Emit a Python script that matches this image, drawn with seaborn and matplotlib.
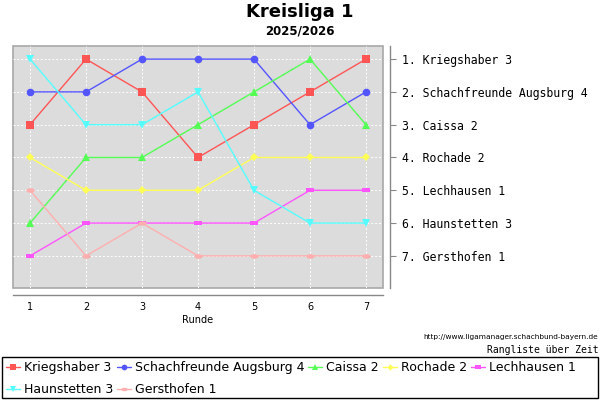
import matplotlib
matplotlib.use("Agg")
import matplotlib.pyplot as plt
from matplotlib.path import Path
from matplotlib.patches import Rectangle
import numpy as np
import pandas as pd
import seaborn as sns

# Platzierung je Runde
runden = [1, 2, 3, 4, 5, 6, 7]
kriegshaber_3 = [3, 1, 2, 4, 3, 2, 1]
schachfreunde_augsburg_4 = [2, 2, 1, 1, 1, 3, 2]
caissa_2 = [6, 4, 4, 3, 2, 1, 3]
rochade_2 = [4, 5, 5, 5, 4, 4, 4]
lechhausen_1 = [7, 6, 6, 6, 6, 5, 5]
haunstetten_3 = [1, 3, 3, 2, 5, 6, 6]
gersthofen_1 = [5, 7, 6, 7, 7, 7, 7]

teams = ["Kriegshaber 3", "Schachfreunde Augsburg 4", "Caissa 2", "Rochade 2",
         "Lechhausen 1", "Haunstetten 3", "Gersthofen 1"]
platz_labels = ["1. Kriegshaber 3", "2. Schachfreunde Augsburg 4", "3. Caissa 2",
                "4. Rochade 2", "5. Lechhausen 1", "6. Haunstetten 3", "7. Gersthofen 1"]

farben = ["#ff5555", "#5555ff", "#55ff55", "#ffff55", "#ff55ff", "#55ffff", "#ffafaf"]

# marker shapes
rect_marker = Path([(-1, -0.5), (1, -0.5), (1, 0.5), (-1, 0.5), (-1, -0.5)],
                   [Path.MOVETO, Path.LINETO, Path.LINETO, Path.LINETO, Path.CLOSEPOLY])
phi = np.linspace(0, 2 * np.pi, 40)
ellipse_marker = Path(np.column_stack([np.cos(phi), 0.55 * np.sin(phi)]))
marker_list = ["s", "o", "^", "D", rect_marker, "v", ellipse_marker]
marker_sizes = [5.2, 5.5, 6, 4.2, 6, 6, 6]

df = pd.DataFrame({
    "Runde": runden * 7,
    "Platz": kriegshaber_3 + schachfreunde_augsburg_4 + caissa_2 + rochade_2
             + lechhausen_1 + haunstetten_3 + gersthofen_1,
    "Team": [t for t in teams for _ in runden],
})

sns.set_style("white")
plt.rcParams["font.family"] = ["DejaVu Sans"]
for k in ["text.color", "axes.labelcolor", "xtick.color", "ytick.color"]:
    plt.rcParams[k] = "black"

fig = plt.figure(figsize=(6, 4), dpi=100)
ax = fig.add_axes([0.022, 0.28, 0.616, 0.605])

for i, team in enumerate(teams):
    sub = df[df["Team"] == team]
    sns.lineplot(data=sub, x="Runde", y="Platz", ax=ax, color=farben[i],
                 marker=marker_list[i], markersize=marker_sizes[i],
                 markeredgewidth=0, linewidth=1, label=team)

ax.set_xlim(0.7, 7.3)
ax.set_ylim(7.98, 0.6)
ax.set_facecolor("#dcdcdc")
ax.patch.set_edgecolor("#a8a8a8")
ax.patch.set_linewidth(1.2)
ax.grid(True, color="white", linestyle=(0, (2, 2)), linewidth=0.7)
ax.set_axisbelow(True)

ax.set_xticks(runden)
ax.set_xticklabels([str(r) for r in runden])
ax.set_xlabel("Runde", fontsize=7, labelpad=2)
ax.set_ylabel("")

ax.yaxis.tick_right()
ax.set_yticks(range(1, 8))
ax.set_yticklabels(platz_labels)

for s in ["top", "left"]:
    ax.spines[s].set_visible(False)
for s in ["bottom", "right"]:
    ax.spines[s].set_position(("outward", 5))
    ax.spines[s].set_color("#888888")
    ax.spines[s].set_linewidth(1)
ax.tick_params(axis="x", length=2, color="#888888", pad=3, labelsize=7)
ax.tick_params(axis="y", length=4, color="#888888", pad=4.5, right=True, left=False,
               labelsize=8.3)
for t in ax.yaxis.get_major_ticks():
    t.label2.set_fontfamily("DejaVu Sans Mono")

fig.text(0.5, 0.97, "Kreisliga 1", ha="center", va="center",
         fontsize=13, fontweight="bold")
fig.text(0.5, 0.922, "2025/2026", ha="center", va="center",
         fontsize=8.5, fontweight="bold")

fig.text(0.997, 0.157, "http://www.ligamanager.schachbund-bayern.de", ha="right",
         va="center", fontsize=5.3)
fig.text(0.997, 0.125, "Rangliste über Zeit", ha="right", va="center",
         fontsize=7, family="DejaVu Sans Mono")

handles, labels = ax.get_legend_handles_labels()
ax.get_legend().remove()
# column-major fill: reorder so rows read left to right
order = [0, 5, 1, 6, 2, 3, 4]
leg = fig.legend([handles[i] for i in order], [labels[i] for i in order],
                 loc="upper left", bbox_to_anchor=(0.004, 0.105), ncol=5,
                 fontsize=9, frameon=False, markerscale=0.75,
                 handlelength=1.15, handletextpad=0.3, columnspacing=0.3,
                 borderpad=0.25, labelspacing=0.72, borderaxespad=0)
# legend box spanning the full width
fig.patches.append(Rectangle((0.004, 0.005), 0.992, 0.1025, transform=fig.transFigure,
                             fill=False, edgecolor="black", linewidth=1))

fig.savefig("out.png", dpi=100)
